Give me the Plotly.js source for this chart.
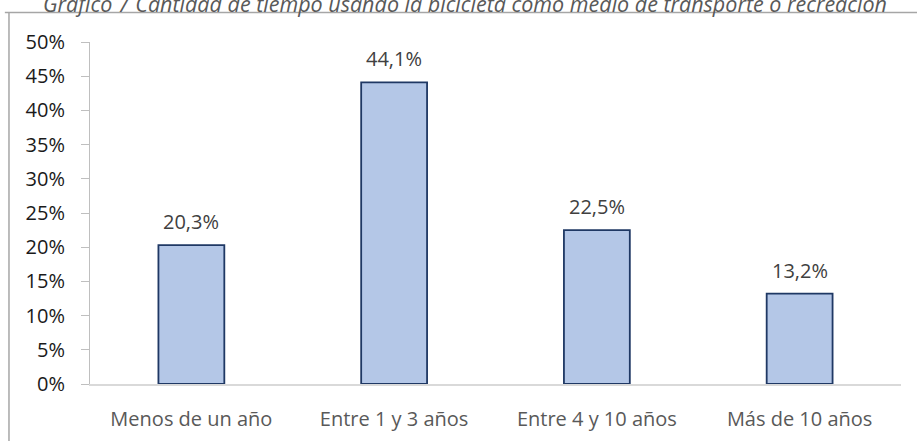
<!DOCTYPE html>
<html>
<head>
<meta charset="utf-8">
<script src="https://cdn.plot.ly/plotly-3.0.1.min.js"></script>
<style>html,body{margin:0;padding:0;background:#fff;}#chart{width:917px;height:441px;}</style>
</head>
<body>
<div id="chart"></div>
<script>
var categories = ["Menos de un año", "Entre 1 y 3 años", "Entre 4 y 10 años", "Más de 10 años"];
var values = [20.3, 44.1, 22.5, 13.2];
var yTicks = [0, 5, 10, 15, 20, 25, 30, 35, 40, 45, 50];
var titleText = "Gráfico 7 Cantidad de tiempo usando la bicicleta como medio de transporte o recreación";

var FONT = "Open Sans, Liberation Sans, sans-serif";

var labels = values.map(function (v, i) {
  return {
    x: categories[i], y: v, xref: "x", yref: "y",
    text: v.toFixed(1).replace(".", ",") + "%",
    showarrow: false, yanchor: "bottom", yshift: 8,
    font: {family: FONT, size: 20, color: "#404040"}
  };
});

labels.push({
  xref: "paper", yref: "paper", x: 0.462, y: 1.112,
  xanchor: "center", yanchor: "middle", showarrow: false,
  text: "<i>" + titleText + "</i>",
  font: {family: FONT, size: 21.5, color: "#595959"}
});

var trace = {
  type: "bar",
  x: categories,
  y: values,
  width: 0.325,
  marker: {color: "#b4c7e7", line: {color: "#1f3864", width: 1.8}},
  hoverinfo: "skip"
};

var layout = {
  width: 917, height: 441,
  margin: {l: 90, r: 16, t: 42, b: 57, pad: 0},
  paper_bgcolor: "#ffffff", plot_bgcolor: "#ffffff",
  showlegend: false,
  separators: ",.",
  xaxis: {
    type: "category",
    showline: true, linecolor: "#d9d9d9", linewidth: 1.5,
    showgrid: false, zeroline: false,
    ticks: "outside", ticklen: 16, tickcolor: "rgba(0,0,0,0)",
    tickfont: {family: FONT, size: 20, color: "#595959"},
    fixedrange: true
  },
  yaxis: {
    range: [0, 50],
    tickvals: yTicks,
    ticktext: yTicks.map(function (t) { return t + "%"; }),
    showline: true, linecolor: "#bfbfbf", linewidth: 1,
    showgrid: false, zeroline: false,
    ticks: "outside", ticklen: 8, tickcolor: "#bfbfbf",
    ticklabelstandoff: 12,
    tickfont: {family: FONT, size: 20, color: "#1a1a1a"},
    fixedrange: true
  },
  annotations: labels,
  shapes: [
    {type: "line", xref: "paper", yref: "paper", x0: -0.0999, x1: -0.0999, y0: 1.0863, y1: -0.3,
     line: {color: "#a6a6a6", width: 1.5}},
    {type: "line", xref: "paper", yref: "paper", x0: -0.105, x1: 1.05, y0: 1.0863, y1: 1.0863,
     line: {color: "#a6a6a6", width: 1.5}}
  ]
};

Plotly.newPlot("chart", [trace], layout, {displayModeBar: false, staticPlot: true});
</script>
</body>
</html>
